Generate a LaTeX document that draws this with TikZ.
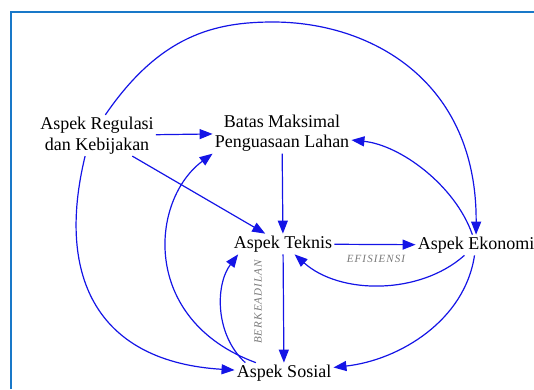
\documentclass[tikz,border=0pt]{standalone}
\usepackage{fontspec}
\setmainfont{Liberation Serif}
\newfontfamily\notefont[LetterSpace=10]{Liberation Serif}
\usetikzlibrary{arrows.meta}
\definecolor{linkblue}{RGB}{20,20,230}
\definecolor{frameblue}{RGB}{25,120,200}
\definecolor{notegray}{RGB}{120,120,120}

\begin{document}
\begin{tikzpicture}[x=1pt, y=-1pt,
    aspek/.style={inner sep=2pt, font=\fontsize{18}{20.5}\selectfont, align=center},
    link/.style={linkblue, line width=1.2pt, -{Triangle[length=13pt,width=10pt]}},
    note/.style={notegray, inner sep=1pt, font=\notefont\itshape\fontsize{11}{12}\selectfont}]
    \useasboundingbox (0,0) rectangle (534,389);
    \draw[frameblue, line width=2pt] (11,389) -- (11,12) -- (534,12);
    % Below nodes are the five aspects.
        \node[aspek] (reg) at (97,135.5) {Aspek Regulasi\\dan Kebijakan};
        \node[aspek] (batas) at (282,133) {Batas Maksimal\\Penguasaan Lahan};
        \node[aspek] (teknis) at (283,244) {Aspek Teknis};
        \node[aspek] (eko) at (476,245) {Aspek Ekonomi};
        \node[aspek] (sosial) at (284,373) {Aspek Sosial};
    % Straight links.
        \draw[link] (reg) -- (batas);
        \draw[link] (reg) -- (teknis);
        \draw[link] (batas) -- (teknis);
        \draw[link] (teknis) -- (eko);
        \draw[link] (teknis) -- (sosial);
    % Curved links.
        \draw[link] (reg.68) .. controls (160,35) and (215,22) .. (273,22)
            .. controls (370,22) and (477,80) .. (eko);
        \draw[link] (reg.240) .. controls (55,280) and (100,362) .. (sosial);
        \draw[link] (eko) .. controls (455,185) and (400,145) .. (batas);
        \draw[link] (eko) .. controls (420,295) and (340,295) .. (teknis);
        \draw[link] (eko) .. controls (465,320) and (400,360) .. (sosial);
        \draw[link] (sosial) .. controls (140,320) and (150,200) .. (batas.south west);
        \draw[link] (sosial.165) .. controls (215,335) and (215,285) .. (teknis.193);
    % Below nodes are the labels on the links.
        \node[note] (efi) at (376,259) {EFISIENSI};
        \node[note, rotate=90] (adil) at (258,302) {BERKEADILAN};
\end{tikzpicture}
\end{document}
